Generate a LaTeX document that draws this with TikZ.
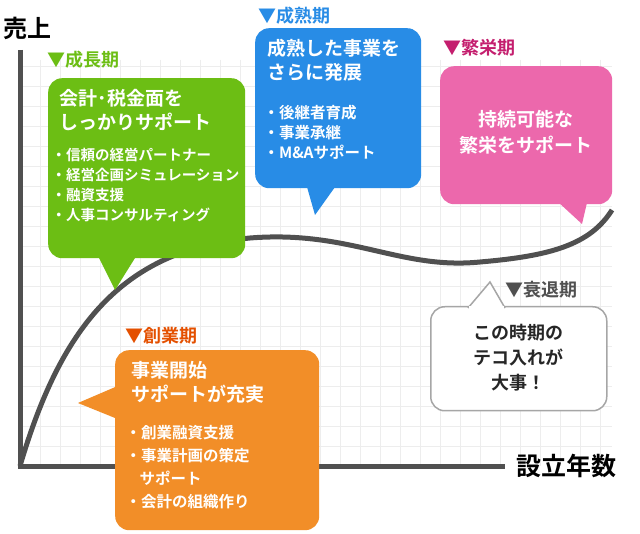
\documentclass[tikz,border=0pt]{standalone}
\usepackage{fontspec}
\setmainfont{Noto Sans CJK JP}[BoldFont={Noto Sans CJK JP Bold}]
\usetikzlibrary{positioning}
\definecolor{growgreen}{RGB}{108,190,20}
\definecolor{matureblue}{RGB}{40,140,230}
\definecolor{prospink}{RGB}{236,104,172}
\definecolor{prostitle}{RGB}{196,30,110}
\definecolor{startorange}{RGB}{242,142,40}
\definecolor{starttitle}{RGB}{228,80,0}
\definecolor{axisgray}{RGB}{80,80,80}
\tikzset{
  bubble/.style={rounded corners=14pt, inner sep=0pt},
  phase/.style={font=\bfseries\fontsize{18}{20}\selectfont, anchor=west},
  head/.style={font=\bfseries\fontsize{19}{24}\selectfont, align=left, anchor=north west, white},
  items/.style={font=\bfseries\fontsize{15.5}{20}\selectfont, align=left, anchor=north west, white}
}
\begin{document}
\begin{tikzpicture}[x=1pt, y=-1pt]
    \useasboundingbox[fill=white] (0,0) rectangle (640,534);

    % Grid
    \foreach \x in {40,60,...,600} {
        \draw[gray!14] (\x, 60) -- (\x, 466);
    }
    \foreach \y in {66,86,...,446} {
        \draw[gray!14] (20, \y) -- (612, \y);
    }

    % Sales curve
    \draw[line width=5pt, axisgray] (20,466) .. controls (60,330) and (120,250) .. (250,238)
        .. controls (350,230) and (400,270) .. (480,262)
        .. controls (550,256) and (590,245) .. (612,210);

    % Axes
    \coordinate (origin) at (20,466);
    \draw[line width=5pt, axisgray] (20,50) -- (origin) -- (505,466);
    \node[font=\bfseries\fontsize{24}{26}\selectfont] (sales) at (28,28) {売上};
    \node[font=\bfseries\fontsize{25}{26}\selectfont] (years) at (566,466) {設立年数};

    % Growth
    \fill[growgreen] (95,250) -- (115,290) -- (140,250) -- cycle;
    \node[bubble, fill=growgreen, minimum width=197pt, minimum height=180pt, anchor=north west] (grow) at (48,78) {};
    \node[phase, growgreen] (growt) at (44,60) {▼成長期};
    \node[head] (growh) at (56,86) {会計･税金面を\\しっかりサポート};
    \node[items, font=\bfseries\fontsize{14.5}{20}\selectfont] (growi) at (48,145) {・信頼の経営パートナー\\・経営企画シミュレーション\\・融資支援\\・人事コンサルティング};

    % Mature
    \fill[matureblue] (305,180) -- (315,215) -- (340,180) -- cycle;
    \node[bubble, fill=matureblue, minimum width=166pt, minimum height=160pt, anchor=north west] (mature) at (255,28) {};
    \node[phase, matureblue] (maturet) at (255,16) {▼成熟期};
    \node[head] (matureh) at (264,36) {成熟した事業を\\さらに発展};
    \node[items] (maturei) at (260,102) {・後継者育成\\・事業承継\\・M\&Aサポート};

    % Prosperity
    \fill[prospink] (545,190) -- (582,224) -- (590,190) -- cycle;
    \node[bubble, fill=prospink, minimum width=172pt, minimum height=138pt, anchor=north west] (pros) at (440,66) {};
    \node[phase, prostitle] (prost) at (440,48) {▼繁栄期};
    \node[font=\bfseries\fontsize{19}{26}\selectfont, align=center, white] (prosh) at (526,132) {持続可能な\\繁栄をサポート};

    % Decline
    \node[bubble, fill=white, draw=gray!70, line width=1.5pt, minimum width=176pt, minimum height=104pt, anchor=north west] (decl) at (430,306) {};
    \filldraw[fill=white, draw=gray!70, line width=1.5pt] (468,308) -- (490,282) -- (505,308);
    \fill[white] (469,306) rectangle (504,311);
    \node[phase, axisgray] (declt) at (502,290) {▼衰退期};
    \node[font=\bfseries\fontsize{18}{25}\selectfont, align=center, black!85] (declh) at (518,358) {この時期の\\テコ入れが\\大事！};

    % Startup
    \fill[startorange] (120,385) -- (78,403) -- (120,420) -- cycle;
    \node[bubble, fill=startorange, minimum width=204pt, minimum height=180pt, anchor=north west] (start) at (115,350) {};
    \node[phase, starttitle] (startt) at (122,336) {▼創業期};
    \node[head] (starth) at (128,358) {事業開始\\サポートが充実};
    \node[items, font=\bfseries\fontsize{15.5}{23}\selectfont] (starti) at (122,422) {・創業融資支援\\・事業計画の策定\\\ \ \ \ サポート\\・会計の組織作り};
\end{tikzpicture}
\end{document}
